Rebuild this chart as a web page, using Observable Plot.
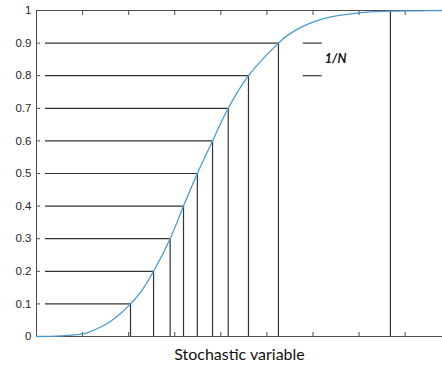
<!DOCTYPE html>
<html>
<head>
<meta charset="utf-8">
<script src="https://cdn.jsdelivr.net/npm/d3@7"></script>
<script src="https://cdn.jsdelivr.net/npm/@observablehq/plot@0.6"></script>
<style>
  html, body { margin: 0; padding: 0; background: #fff; }
  #chart svg { display: block; }
</style>
</head>
<body>
<div id="chart"></div>
<script>
// Cumulative distribution curve (x in axis units, P in [0, 1])
const curveX = [0, 0.52, 1.0, 1.17, 1.39, 1.61, 1.82, 2.04, 2.26, 2.54, 2.90, 3.19, 3.49, 3.82, 4.16, 4.60, 5.25, 5.44, 5.79, 6.16, 6.53, 6.98, 7.25, 7.68, 8.33, 8.81];
const curveP = [0, 0.002, 0.008, 0.015, 0.029, 0.047, 0.07, 0.1, 0.136, 0.2, 0.3, 0.4, 0.5, 0.6, 0.7, 0.8, 0.9, 0.923, 0.952, 0.972, 0.984, 0.993, 0.996, 0.998, 0.999, 1.0];

// Probability levels and the sample values they map to through the inverse CDF
const levels = [0.1, 0.2, 0.3, 0.4, 0.5, 0.6, 0.7, 0.8, 0.9];
const samples = [2.04, 2.54, 2.90, 3.19, 3.49, 3.82, 4.16, 4.60, 5.25];

// Extra sample drawn near the upper tail
const tailSample = [7.68];

// Axis ticks
const yTicks = [0, 0.1, 0.2, 0.3, 0.4, 0.5, 0.6, 0.7, 0.8, 0.9, 1];
const xTicks = [1, 2, 3, 4, 5, 6, 7, 8];

// Spacing annotation between two neighbouring levels
const spacingLevels = [0.8, 0.9];
const spacingLabel = "1/N";
const xLabel = "Stochastic variable";

const curve = curveX.map((x, i) => ({x, p: curveP[i]}));
const steps = levels.map((p, i) => ({p, x: samples[i]}));

const ink = "#333333";
const axisInk = "#4d4d4d";

const chart = Plot.plot({
  width: 442,
  height: 365,
  marginLeft: 36,
  marginRight: 0,
  marginTop: 10,
  marginBottom: 29,
  style: {fontFamily: "Liberation Sans, Arial, sans-serif", fontSize: "11.5px", color: "#262626", background: "#fff"},
  x: {domain: [0, 8.81], axis: null, label: null},
  y: {domain: [0, 1], axis: null, label: null},
  marks: [
    // horizontal guides from the axis to the curve
    Plot.ruleY(steps, {y: "p", x1: 0, x2: "x", insetLeft: 9, stroke: ink, strokeWidth: 1.2}),
    // vertical drops from the curve to the axis
    Plot.ruleX(steps, {x: "x", y1: 0, y2: "p", stroke: ink, strokeWidth: 1.2}),
    Plot.ruleX(tailSample, {y1: 0, y2: 1, stroke: ink, strokeWidth: 1.2}),
    // 1/N spacing marker
    Plot.ruleY(spacingLevels, {x1: 5.79, x2: 6.2, stroke: ink, strokeWidth: 1.2}),
    Plot.text([spacingLabel], {x: 6.49, y: 0.85, text: d => d, fontStyle: "italic", fontWeight: "bold", fontSize: 12.5, fontFamily: "Lato, sans-serif", fill: "#111"}),
    // axes box: left, bottom, top
    Plot.ruleX([0], {stroke: axisInk}),
    Plot.ruleY([0, 1], {stroke: axisInk}),
    // tick labels and inward ticks
    Plot.axisY(yTicks, {tickSize: 0, tickPadding: 5, tickFormat: d => String(d), fill: "#262626", label: null}),
    Plot.axisY(yTicks, {tickSize: -4, tickFormat: () => "", stroke: axisInk, label: null}),
    Plot.axisX(xTicks, {anchor: "bottom", tickSize: -4, tickFormat: () => "", stroke: axisInk, label: null}),
    Plot.axisX(xTicks, {anchor: "top", tickSize: -4, tickFormat: () => "", stroke: axisInk, label: null}),
    // the CDF curve
    Plot.line(curve, {x: "x", y: "p", curve: "catmull-rom", stroke: "#4a9bd4", strokeWidth: 1.3}),
    // x label
    Plot.text([xLabel], {frameAnchor: "bottom", dy: 23, text: d => d, fontFamily: "Lato, sans-serif", fontSize: 16, fill: "#111", lineAnchor: "bottom"})
  ]
});

document.getElementById("chart").append(chart);
</script>
</body>
</html>
